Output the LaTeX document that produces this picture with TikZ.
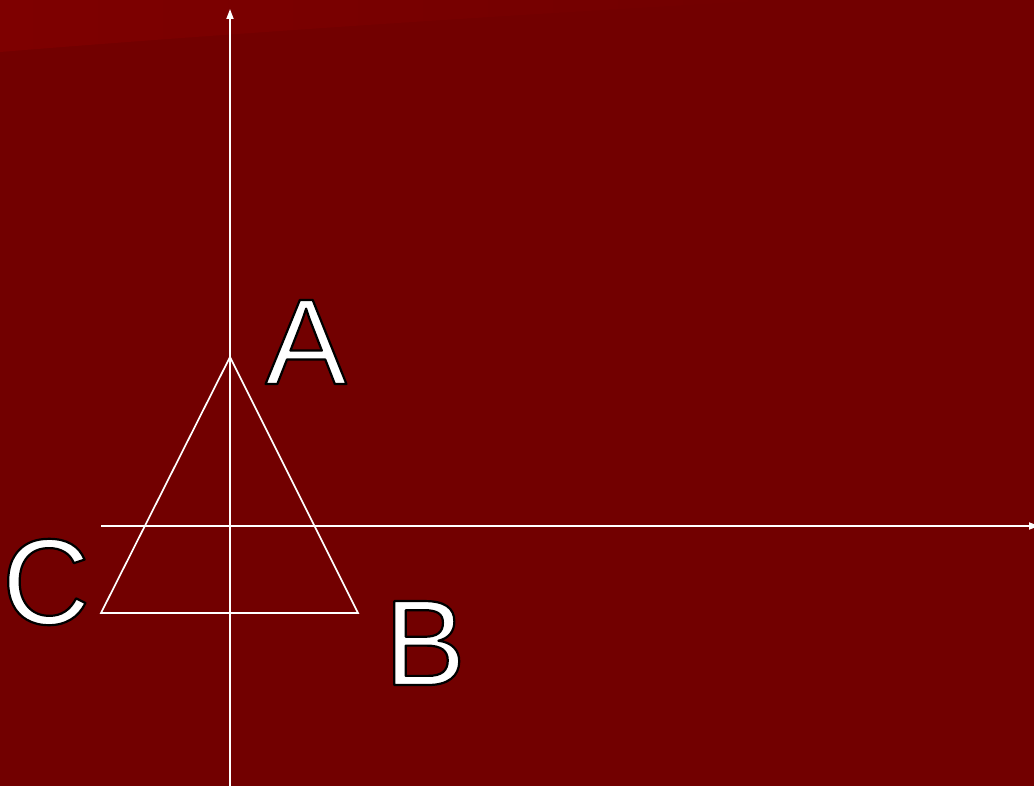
\documentclass[tikz,border=0pt]{standalone}
\usepackage{fontspec}
\setmainfont{Liberation Sans}
\usetikzlibrary{arrows.meta}
\definecolor{slide}{RGB}{114,0,0}
\definecolor{slidetop}{RGB}{126,0,0}
\tikzset{
  axis/.style={white, line width=1.7pt, -{Triangle[length=10pt,width=7pt]}},
  edge/.style={white, line width=1.7pt, line join=miter},
  vlabel/.style={font=\fontsize{122}{122}\selectfont, inner sep=0pt, anchor=base, text=white},
}
% white letter with a thin black rim (fill + stroke text mode)
\newcommand{\rim}[1]{\special{pdf:code 2 Tr 0 G 2.2 w 1 j}#1\special{pdf:code 0 Tr}}

\begin{document}
\begin{tikzpicture}[x=1pt,y=-1pt]
  \useasboundingbox (0,0) rectangle (1034,786);
  \fill[slide] (0,0) rectangle (1034,786);
  \shade[left color=slidetop, right color=slide]
    (0,0) -- (780,0) .. controls (520,14) and (220,34) .. (0,52) -- cycle;

  % axes
  \coordinate (ybot) at (230,786);
  \coordinate (ytop) at (230,9);
  \coordinate (xleft) at (101,526);
  \coordinate (xright) at (1039,526);
  \draw[axis] (ybot) -- (ytop);
  \draw[axis] (xleft) -- (xright);

  % triangle
  \coordinate (A) at (230,357);
  \coordinate (B) at (358,613);
  \coordinate (C) at (101,613);
  \draw[edge] (A) -- (B) -- (C) -- cycle;

  \node[vlabel] (labA) at (306,384) {\rim{A}};
  \node[vlabel] (labB) at (425,685) {\rim{B}};
  \node[vlabel] (labC) at (46,624) {\rim{C}};
\end{tikzpicture}
\end{document}
